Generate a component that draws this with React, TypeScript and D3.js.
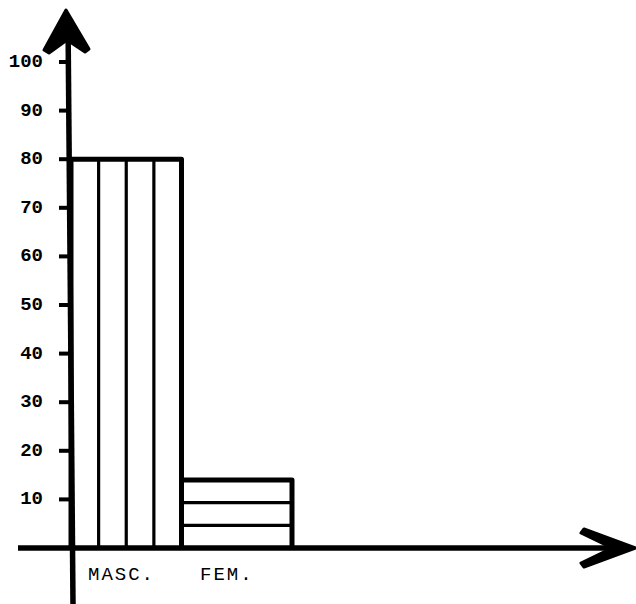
import React from "react";
import * as d3 from "d3";

const categories = ["MASC.", "FEM."];
const values = [80, 14];
const hatchDirections = ["vertical", "horizontal"];
const hatchDivisions = [4, 3];
const yTicks = [10, 20, 30, 40, 50, 60, 70, 80, 90, 100];

const W = 636;
const H = 604;
const FONT = "'Liberation Mono', 'DejaVu Sans Mono', monospace";

export default function App() {
  const y = d3.scaleLinear().domain([0, 100]).range([548, 62]);
  const x = d3.scaleBand<string>().domain(categories).range([71, 292]).padding(0);
  const axisX = 71;
  const baseY = y(0);

  return (
    <svg
      width={W}
      height={H}
      style={{ position: "absolute", left: 0, top: 0, background: "#fff" }}
    >
      <rect width={W} height={H} fill="#fff" />
      {/* bars */}
      {categories.map((c, i) => {
        const x0 = x(c)!;
        const x1 = x0 + x.bandwidth();
        const top = y(values[i]);
        const n = hatchDivisions[i];
        const lines: JSX.Element[] = [];
        for (let k = 1; k < n; k++) {
          if (hatchDirections[i] === "vertical") {
            const xx = x0 + ((x1 - x0) * k) / n;
            lines.push(
              <line key={k} x1={xx} x2={xx} y1={top} y2={baseY} stroke="#000" strokeWidth={3.2} />
            );
          } else {
            const yy = top + ((baseY - top) * k) / n;
            lines.push(
              <line key={k} x1={x0} x2={x1} y1={yy} y2={yy} stroke="#000" strokeWidth={3.2} />
            );
          }
        }
        return (
          <g key={c}>
            {lines}
            <path
              d={`M${x0},${baseY} L${x0},${top} L${x1},${top} L${x1},${baseY}`}
              fill="none"
              stroke="#000"
              strokeWidth={5}
              strokeLinejoin="round"
            />
          </g>
        );
      })}

      {/* y axis */}
      <line x1={axisX - 3} y1={20} x2={axisX + 2} y2={H} stroke="#000" strokeWidth={5.5} />
      <path
        d={`M66,10 L89,49 L85,52 L67,40 L49,53 L44,50 Z`}
        fill="#000"
        stroke="#000"
        strokeWidth={3}
        strokeLinejoin="round"
      />
      {/* y ticks */}
      {yTicks.map((t) => (
        <g key={t}>
          <line x1={59} x2={axisX} y1={y(t)} y2={y(t)} stroke="#000" strokeWidth={4} />
          <text
            x={43}
            y={y(t)}
            textAnchor="end"
            dominantBaseline="central"
            fontFamily={FONT}
            fontWeight="bold"
            fontSize={19}
            fill="#000"
          >
            {t}
          </text>
        </g>
      ))}

      {/* x axis */}
      <line x1={18} y1={baseY} x2={620} y2={baseY} stroke="#000" strokeWidth={5.5} />
      <path
        d={`M636,548 L584,567 L581,563 L612,548 L581,533 L584,529 Z`}
        fill="#000"
        stroke="#000"
        strokeWidth={3}
        strokeLinejoin="round"
      />

      {/* category labels */}
      {categories.map((c, i) => (
        <text
          key={c}
          x={i === 0 ? 88 : 200}
          y={580}
          fontFamily={FONT}
          fontSize={19}
          letterSpacing={2}
          fill="#000"
        >
          {c}
        </text>
      ))}
    </svg>
  );
}
